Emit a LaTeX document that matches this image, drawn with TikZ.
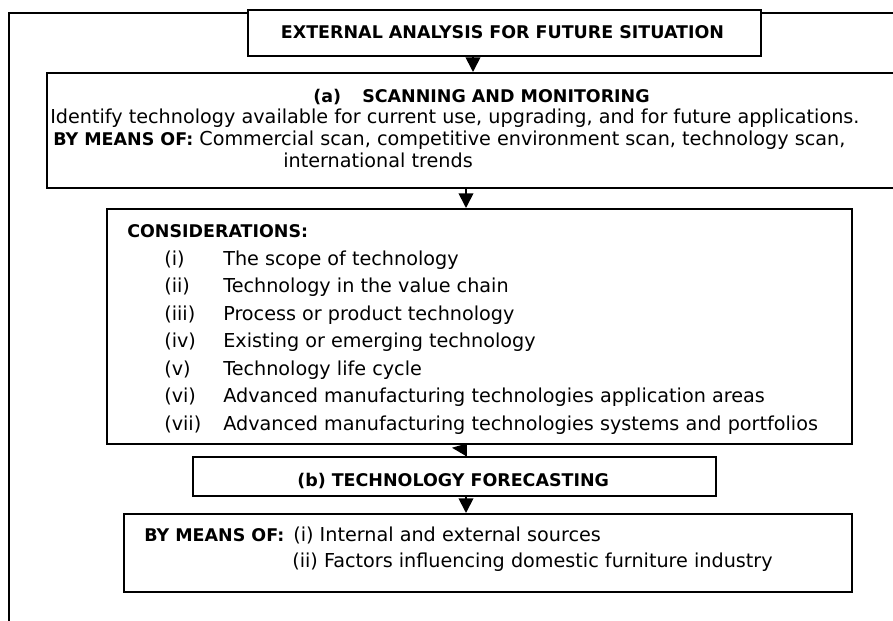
\documentclass[tikz,border=0pt]{standalone}
\usepackage{fontspec}
\setmainfont{DejaVu Sans}
\usetikzlibrary{arrows.meta,calc}
\begin{document}
\begin{tikzpicture}[x=0.75pt,y=-0.75pt,
  box/.style={draw, line width=1.3pt, rectangle, inner sep=0pt, anchor=north west},
  txt/.style={inner sep=0pt, anchor=base west, font=\fontsize{14.4}{16}\selectfont},
  hdr/.style={txt, font=\fontsize{13.1}{15}\selectfont\bfseries},
  arr/.style={line width=1.3pt, -{Triangle[width=11pt,length=11pt]}},
  frame/.style={line width=1.3pt}]
\clip (0,0) rectangle (893,621);

% boxes
\node[box, minimum width=384.75pt, minimum height=34.5pt] (title) at (247,9) {};
\node[box, minimum width=648pt, minimum height=86.25pt] (boxa) at (46,72) {};
\node[box, minimum width=558.75pt, minimum height=176.25pt] (cons) at (106,208) {};
\node[box, minimum width=392.25pt, minimum height=29.25pt] (boxb) at (192,456) {};
\node[box, minimum width=546pt, minimum height=58.5pt] (bot) at (123,513) {};

% outer frame, open at the right and the bottom
\draw[frame] (title.west |- 0,13) -- (9,13) -- (9,640);
\draw[frame] (title.east |- 0,13) -- (910,13);

% connectors
\draw[arr] (title.south -| 473,0) -- (boxa.north -| 473,0);
\draw[arr] (boxa.south -| 466,0) -- (cons.north -| 466,0);
\draw[line width=1.3pt] (cons.south -| 466,0) -- (boxb.north -| 466,0);
\fill ($(cons.south -| 466,0)+(-14,3)$) -- ($(cons.south -| 466,0)+(0,-1)$) -- (boxb.north -| 466,0) -- cycle;
\draw[arr] (boxb.south -| 466,0) -- (bot.north -| 466,0);

% title
\node[hdr, anchor=base] (ttl) at (502.5,38) {EXTERNAL ANALYSIS FOR FUTURE SITUATION};

% scanning and monitoring
\node[hdr] (alab) at (313,102) {(a)};
\node[hdr] (ahead) at (362,102) {SCANNING AND MONITORING};
\node[txt] (al1) at (50,123.5) {Identify technology available for current use, upgrading, and for future applications.};
\node[txt] (al2) at (53,145) {{\fontsize{13.1}{15}\selectfont\bfseries BY MEANS OF:} Commercial scan, competitive environment scan, technology scan,};
\node[txt] (al3) at (283,167) {international trends};

% considerations
\node[hdr] (chead) at (127,237) {CONSIDERATIONS:};
\foreach \lab/\item [count=\k from 0] in {
  (i)/The scope of technology,
  (ii)/Technology in the value chain,
  (iii)/Process or product technology,
  (iv)/Existing or emerging technology,
  (v)/Technology life cycle,
  (vi)/Advanced manufacturing technologies application areas,
  (vii)/Advanced manufacturing technologies systems and portfolios}{
  \node[txt] (cl\k) at (164,265+27.5*\k) {\lab};
  \node[txt] (ci\k) at (223,265+27.5*\k) {\item};
}

% forecasting
\node[hdr] (bhead) at (297,486) {(b) TECHNOLOGY FORECASTING};
\node[hdr] (bmeans) at (144,541.5) {BY MEANS OF:};
\node[txt] (b1) at (293,541.5) {(i) Internal and external sources};
\node[txt] (b2) at (292,567.5) {(ii) Factors influencing domestic furniture industry};
\end{tikzpicture}
\end{document}
